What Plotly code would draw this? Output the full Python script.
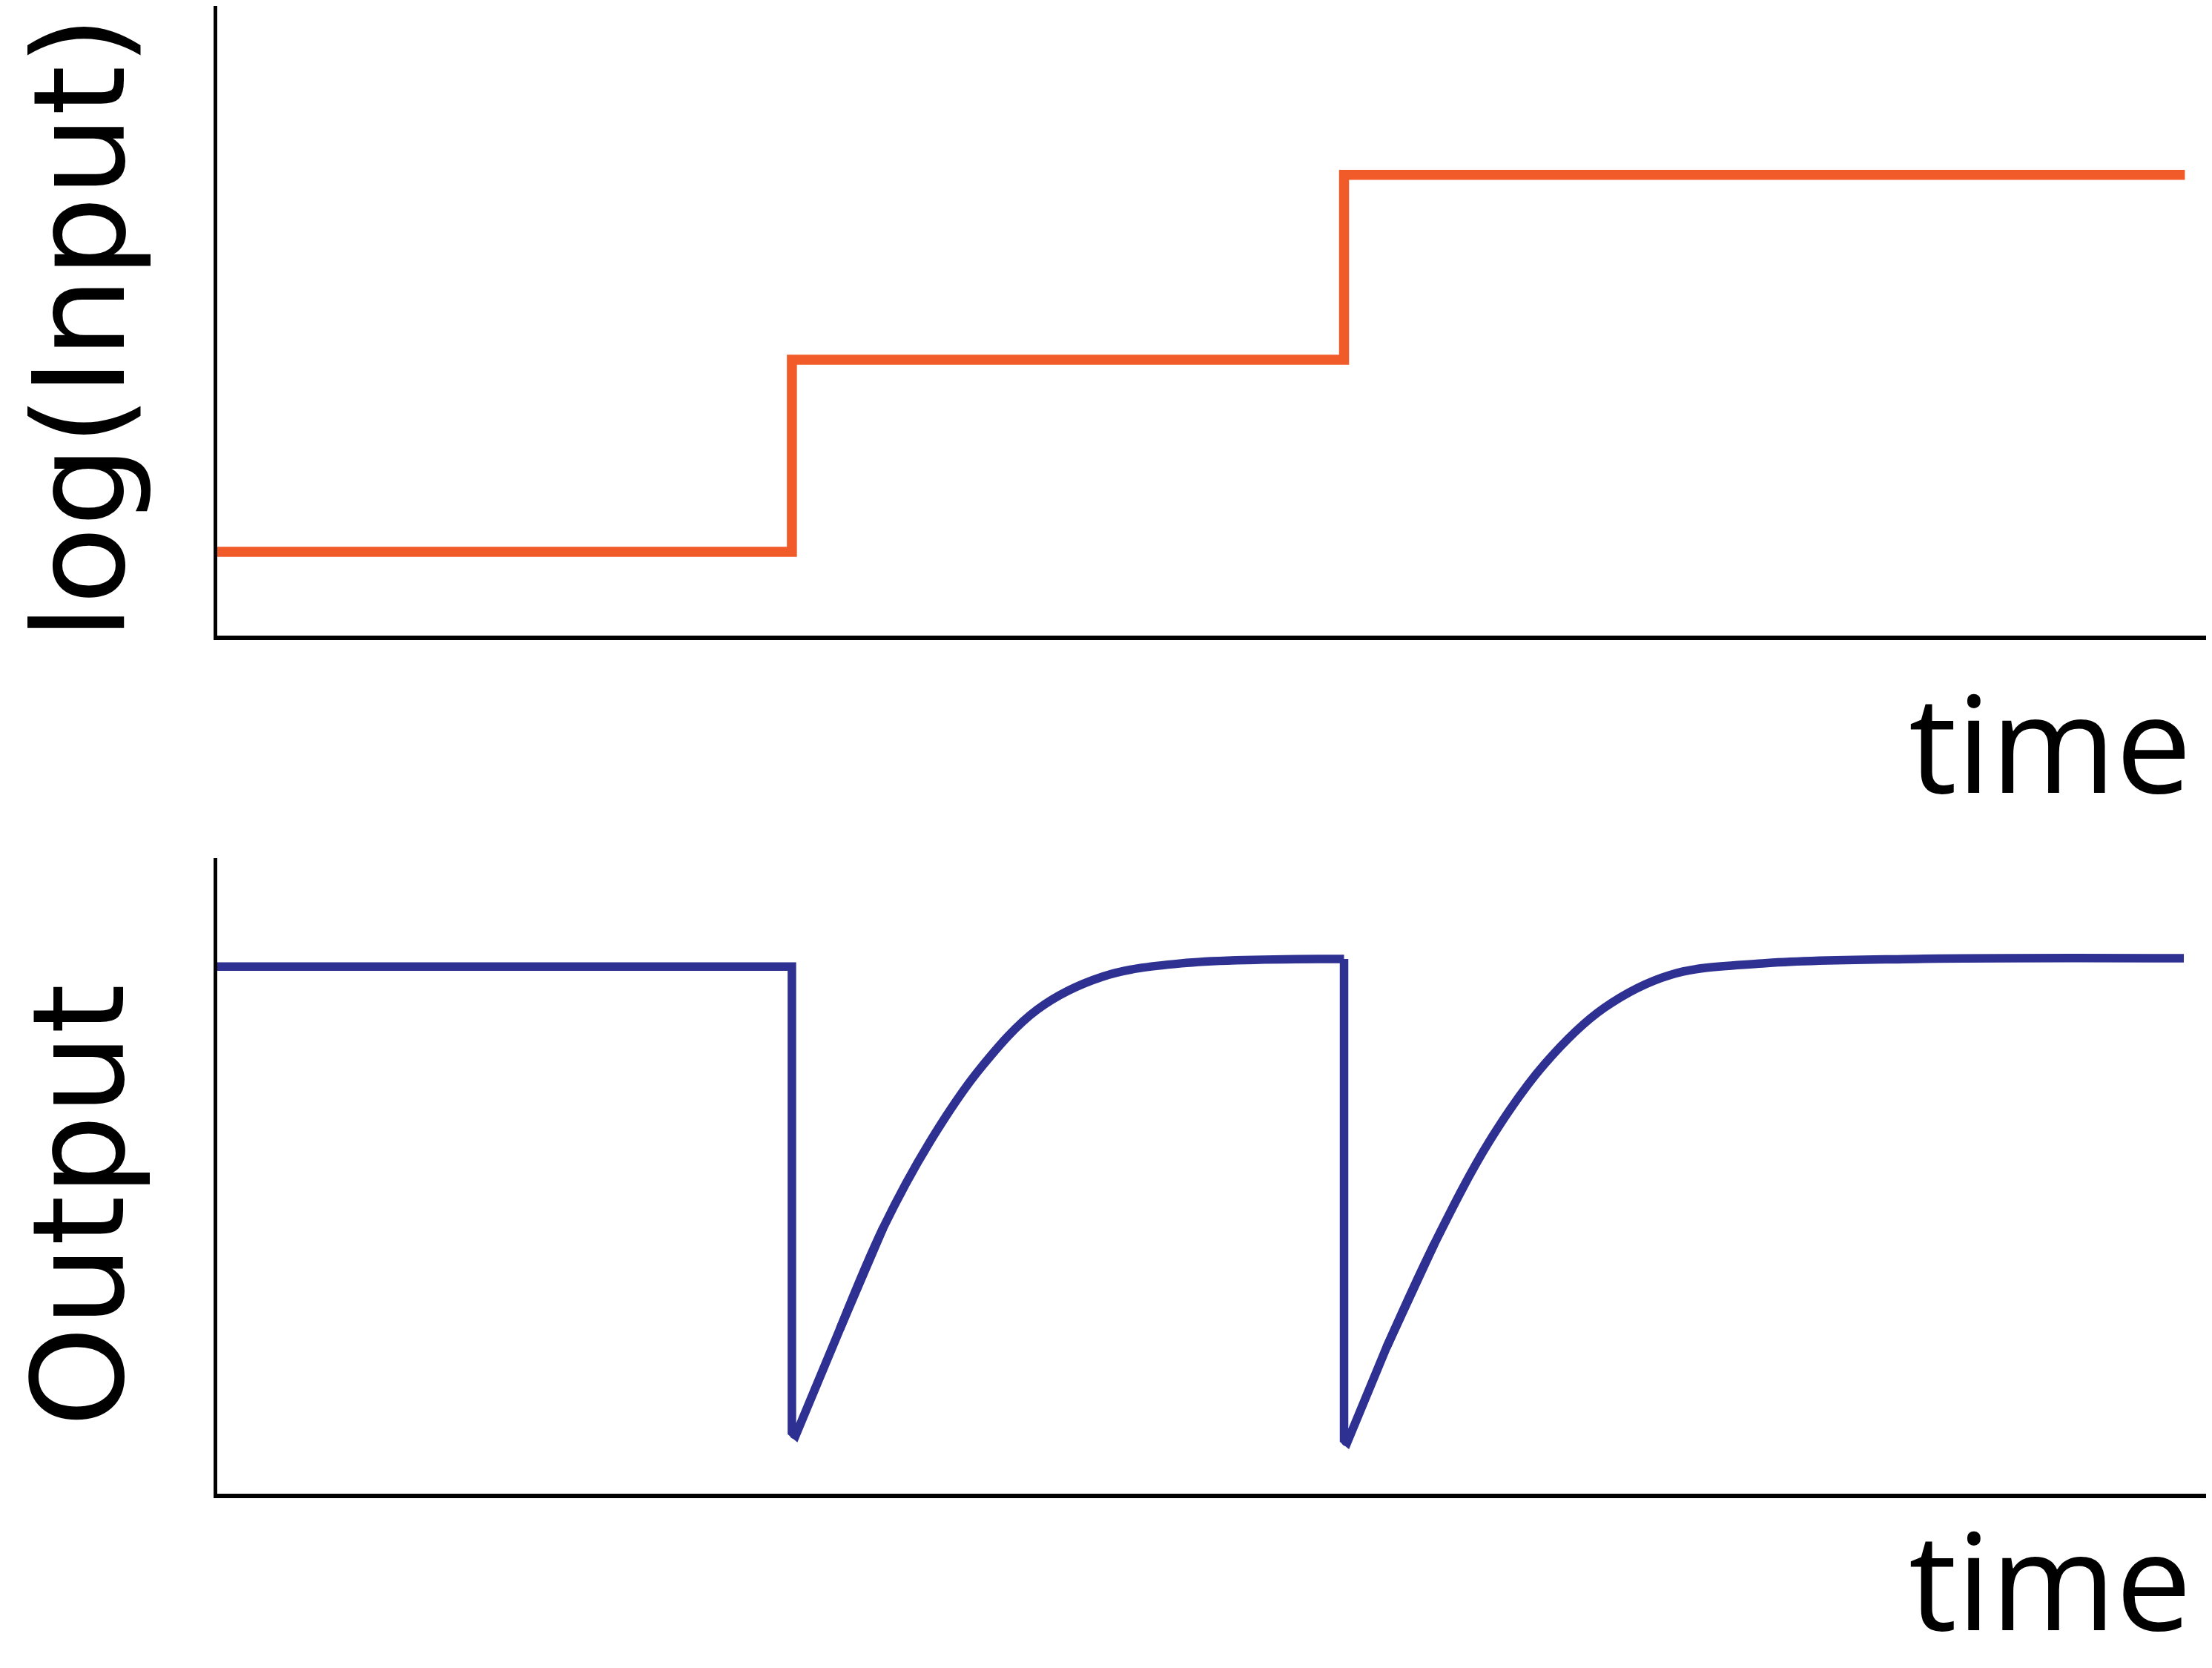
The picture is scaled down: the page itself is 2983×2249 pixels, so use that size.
import plotly.graph_objects as go

# page is 2983x2249 but the browser adds an 8px body margin
FW, FH = 2975, 2241

# ---------------- data ----------------
# top panel: log(Input) step signal
input_t = [0.0, 2.886, 5.652, 9.864]
input_y = [1.35, 4.36, 7.26, 7.26]

# bottom panel: Output
# steady level, sudden drop and the straight start of the recovery
drop1_t = [0.0, 2.886, 2.886, 2.905, 3.127, 3.343]
drop1_y = [8.30, 8.30, 1.00, 0.95, 2.62, 4.20]
drop2_t = [5.652, 5.652, 5.668, 5.865, 6.104]
drop2_y = [8.42, 0.88, 0.84, 2.33, 3.95]
# curved part of the adaptation after each drop
recov1_t = [3.127, 3.343, 3.577, 3.829, 4.117, 4.441, 4.837, 5.652]
recov1_y = [2.62, 4.20, 5.55, 6.70, 7.63, 8.14, 8.35, 8.42]
recov2_t = [5.865, 6.104, 6.382, 6.659, 6.954, 7.287, 7.749, 8.522, 9.859]
recov2_y = [2.33, 3.95, 5.57, 6.78, 7.65, 8.17, 8.35, 8.42, 8.43]
# lowest points of the two dips (rounded ends)
dip_t = [2.897, 5.660]
dip_y = [0.96, 0.85]

x_range = [0.0074, 10.0]
y_range_top = [0.035, 9.907]
y_range_bottom = [0.035, 10.0]

ORANGE = "#F15A29"
BLUE = "#2E3192"
LW_IN = 13.5
LW_OUT = 11.5


def px_x(p):
    return p / FW


def px_y(p):
    return 1 - p / FH


fig = go.Figure()
fig.add_trace(go.Scatter(x=input_t, y=input_y, mode="lines", line_shape="hv",
                         line=dict(color=ORANGE, width=LW_IN, simplify=False),
                         xaxis="x", yaxis="y", cliponaxis=False, showlegend=False))
for tt, yy, shape in [(drop1_t, drop1_y, "linear"), (drop2_t, drop2_y, "linear"),
                      (recov1_t, recov1_y, "spline"), (recov2_t, recov2_y, "spline")]:
    fig.add_trace(go.Scatter(x=tt, y=yy, mode="lines", line_shape=shape,
                             line=dict(color=BLUE, width=LW_OUT, simplify=False,
                                       smoothing=1.0),
                             xaxis="x2", yaxis="y2", cliponaxis=False,
                             showlegend=False))
fig.add_trace(go.Scatter(x=dip_t, y=dip_y, mode="markers",
                         marker=dict(color=BLUE, size=LW_OUT, line=dict(width=0)),
                         xaxis="x2", yaxis="y2", cliponaxis=False, showlegend=False))

axis_common = dict(showgrid=False, zeroline=False, showticklabels=False,
                   ticks="", showline=True, linecolor="black", fixedrange=True)

x_dom = [px_x(285), 1]
fig.update_layout(
    width=FW, height=FH,
    margin=dict(l=0, r=0, t=0, b=0),
    paper_bgcolor="white", plot_bgcolor="white",
    xaxis=dict(domain=x_dom, range=x_range, anchor="y", linewidth=6, **axis_common),
    yaxis=dict(domain=[px_y(849), 1], range=y_range_top, anchor="x", linewidth=4.5,
               **axis_common),
    xaxis2=dict(domain=x_dom, range=x_range, anchor="y2", linewidth=6, **axis_common),
    yaxis2=dict(domain=[px_y(2006), px_y(1149)], range=y_range_bottom, anchor="x2",
                linewidth=4.5, **axis_common),
)

time_font = dict(family="Open Sans", size=182, color="black")
label_font = dict(family="DejaVu Sans", size=172, color="black")

fig.add_annotation(text="time", xref="paper", yref="paper", x=px_x(2950), y=px_y(990),
                   xanchor="right", yanchor="middle", showarrow=False, font=time_font)
fig.add_annotation(text="time", xref="paper", yref="paper", x=px_x(2950), y=px_y(2119),
                   xanchor="right", yanchor="middle", showarrow=False, font=time_font)
fig.add_annotation(text="log(Input)", xref="paper", yref="paper", x=px_x(99), y=px_y(434),
                   xanchor="center", yanchor="middle", textangle=-90, showarrow=False,
                   font=label_font)
fig.add_annotation(text="Output", xref="paper", yref="paper", x=px_x(99), y=px_y(1618),
                   xanchor="center", yanchor="middle", textangle=-90, showarrow=False,
                   font=label_font)

fig.write_html("out.html")
